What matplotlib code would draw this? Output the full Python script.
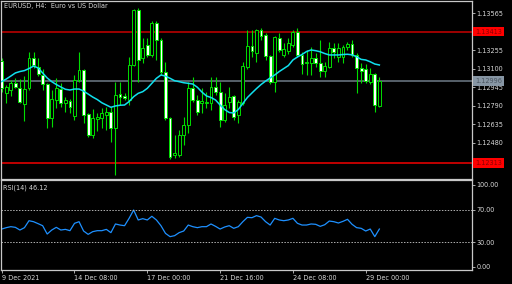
import matplotlib
matplotlib.use("Agg")
import matplotlib.pyplot as plt
import matplotlib.transforms as mtransforms
import numpy as np

# ---- data (EURUSD H4) ----
opens = [1.13165, 1.12897, 1.12922, 1.12981, 1.12939, 1.12804, 1.12939, 1.13190, 1.13115, 1.13048,
         1.12972, 1.12687, 1.12838, 1.12930, 1.12813, 1.12830, 1.12704, 1.13006, 1.13090, 1.12721,
         1.12544, 1.12679, 1.12687, 1.12712, 1.12737, 1.12603, 1.12888, 1.12872, 1.12838, 1.13132,
         1.13593, 1.13190, 1.13299, 1.13216, 1.13484, 1.13341, 1.13073, 1.12687, 1.12377, 1.12377,
         1.12544, 1.12628, 1.12939, 1.12838, 1.12813, 1.12813, 1.12813, 1.12947, 1.12905, 1.12670,
         1.12821, 1.12872, 1.12712, 1.12813, 1.13115, 1.13291, 1.13232, 1.13425, 1.13383, 1.13207,
         1.12989, 1.13358, 1.13216, 1.13249, 1.13299, 1.13409, 1.13216, 1.13148, 1.13148, 1.13190,
         1.13148, 1.13081, 1.13115, 1.13274, 1.13199, 1.13199, 1.13283, 1.13308, 1.13216, 1.13107,
         1.13098, 1.12989, 1.13056, 1.12788]
highs = [1.13190, 1.12964, 1.13006, 1.13023, 1.13014, 1.13039, 1.13241, 1.13241, 1.13190, 1.13098,
         1.12981, 1.12922, 1.13023, 1.12981, 1.12863, 1.12846, 1.13048, 1.13241, 1.13098, 1.12729,
         1.12763, 1.12729, 1.12771, 1.12779, 1.12779, 1.12989, 1.12989, 1.12897, 1.13199, 1.13601,
         1.13610, 1.13358, 1.13358, 1.13501, 1.13501, 1.13358, 1.13157, 1.12695, 1.12544, 1.12586,
         1.12695, 1.12989, 1.13031, 1.12880, 1.12939, 1.12905, 1.13031, 1.13031, 1.12989, 1.12897,
         1.12947, 1.12880, 1.12838, 1.13157, 1.13425, 1.13425, 1.13434, 1.13442, 1.13400, 1.13216,
         1.13375, 1.13400, 1.13316, 1.13358, 1.13425, 1.13442, 1.13241, 1.13258, 1.13283, 1.13232,
         1.13341, 1.13157, 1.13325, 1.13316, 1.13316, 1.13299, 1.13325, 1.13341, 1.13232, 1.13148,
         1.13140, 1.13107, 1.13065, 1.13031]
lows = [1.12905, 1.12813, 1.12872, 1.12939, 1.12813, 1.12662, 1.12922, 1.13107, 1.13039, 1.12922,
        1.12603, 1.12611, 1.12771, 1.12779, 1.12737, 1.12729, 1.12670, 1.12989, 1.12645, 1.12528,
        1.12519, 1.12578, 1.12603, 1.12586, 1.12486, 1.12209, 1.12796, 1.12838, 1.12796, 1.13123,
        1.12989, 1.13148, 1.13199, 1.13199, 1.13174, 1.13048, 1.12670, 1.12343, 1.12351, 1.12360,
        1.12460, 1.12561, 1.12821, 1.12712, 1.12729, 1.12771, 1.12754, 1.12880, 1.12611, 1.12653,
        1.12771, 1.12670, 1.12645, 1.12796, 1.13098, 1.13199, 1.13157, 1.13341, 1.13174, 1.12972,
        1.12905, 1.13241, 1.13199, 1.13224, 1.13283, 1.13199, 1.13056, 1.13048, 1.13048, 1.13115,
        1.13031, 1.13031, 1.13107, 1.13190, 1.13157, 1.13148, 1.13258, 1.13199, 1.12897, 1.12981,
        1.12981, 1.12972, 1.12737, 1.12779]
closes = [1.12939, 1.12947, 1.12981, 1.12947, 1.12821, 1.12930, 1.13190, 1.13132, 1.13056, 1.12972,
          1.12687, 1.12846, 1.12939, 1.12813, 1.12838, 1.12779, 1.13006, 1.13090, 1.12712, 1.12544,
          1.12687, 1.12695, 1.12729, 1.12737, 1.12603, 1.12880, 1.12863, 1.12855, 1.13132, 1.13593,
          1.13174, 1.13274, 1.13216, 1.13484, 1.13341, 1.13073, 1.12687, 1.12360, 1.12393, 1.12544,
          1.12628, 1.12939, 1.12838, 1.12737, 1.12830, 1.12821, 1.12947, 1.12905, 1.12670, 1.12796,
          1.12863, 1.12695, 1.12821, 1.13123, 1.13291, 1.13249, 1.13425, 1.13375, 1.13207, 1.12989,
          1.13367, 1.13258, 1.13266, 1.13316, 1.13409, 1.13216, 1.13140, 1.13157, 1.13190, 1.13148,
          1.13081, 1.13123, 1.13274, 1.13241, 1.13274, 1.13283, 1.13308, 1.13216, 1.13107, 1.13081,
          1.12997, 1.13056, 1.12796, 1.12997]
ma_values = [1.12993, 1.13014, 1.13039, 1.13065, 1.13077, 1.13085, 1.13102, 1.13123, 1.13107, 1.13065,
             1.13023, 1.12992, 1.12968, 1.12947, 1.12928, 1.12922, 1.12930, 1.12930, 1.12913, 1.12888,
             1.12863, 1.12842, 1.12815, 1.12796, 1.12777, 1.12788, 1.12794, 1.12796, 1.12825, 1.12866,
             1.12894, 1.12908, 1.12936, 1.12978, 1.13020, 1.13048, 1.13039, 1.13020, 1.13000, 1.12992,
             1.12983, 1.12978, 1.12972, 1.12945, 1.12905, 1.12872, 1.12859, 1.12838, 1.12796, 1.12758,
             1.12733, 1.12729, 1.12758, 1.12809, 1.12859, 1.12897, 1.12934, 1.12968, 1.12997, 1.13023,
             1.13048, 1.13077, 1.13102, 1.13127, 1.13174, 1.13199, 1.13220, 1.13245, 1.13258, 1.13252,
             1.13243, 1.13228, 1.13216, 1.13216, 1.13216, 1.13220, 1.13222, 1.13217, 1.13201, 1.13179,
             1.13174, 1.13159, 1.13140, 1.13132]
rsi_values = [46.1, 47.8, 49.0, 48.2, 44.9, 47.8, 56.3, 55.1, 52.7, 50.2,
              40.0, 44.9, 48.2, 44.9, 45.7, 44.1, 53.1, 55.1, 43.7, 39.6,
              42.9, 44.1, 44.1, 45.7, 41.7, 52.3, 51.0, 50.2, 59.2, 69.4,
              57.2, 58.8, 57.2, 61.7, 57.2, 50.2, 40.8, 36.8, 38.0, 41.7,
              43.7, 51.0, 49.0, 47.8, 49.0, 49.0, 52.3, 49.4, 46.1, 48.6,
              50.2, 47.0, 49.0, 55.1, 60.4, 60.0, 62.5, 60.8, 55.1, 51.0,
              59.2, 57.2, 56.3, 57.2, 59.2, 53.1, 51.0, 51.0, 52.3, 51.9,
              49.4, 51.4, 55.9, 55.1, 53.5, 55.5, 58.0, 51.9, 47.8, 47.0,
              43.7, 46.1, 36.8, 46.1]
price_ticks = [1.13565, 1.13255, 1.13100, 1.12945, 1.12790, 1.12635, 1.12480]
resistance = 1.13413
support = 1.12313
last_price = 1.12996
rsi_ticks = [100.0, 70.0, 30.0, 0.0]
rsi_levels = [70.0, 30.0]
date_positions = [0, 16, 32, 48, 64, 80]
date_labels = ["9 Dec 2021", "14 Dec 08:00", "17 Dec 00:00", "21 Dec 16:00", "24 Dec 08:00", "29 Dec 00:00"]
title = "EURUSD, H4:  Euro vs US Dollar"
rsi_title = "RSI(14) 46.12"

# ---- figure ----
W, H = 512, 284
fig = plt.figure(figsize=(W / 100, H / 100), dpi=100, facecolor="black")
FONT = "DejaVu Sans"
FS = 4.7
TXT = "#d8d8d8"
BORDER = "#c8c8c8"
GREEN = "#00dd00"


def frac(x0, y0, x1, y1):
    return [x0 / W, 1 - y1 / H, (x1 - x0) / W, (y1 - y0) / H]


ax = fig.add_axes(frac(1, 1, 472, 179), facecolor="black")
axr = fig.add_axes(frac(1, 180, 472, 270), facecolor="black", sharex=ax)

n = len(closes)
x = np.arange(n)
xmin, xmax = (1 - 1.7) / 4.55, (472 - 1.7) / 4.55
ax.set_xlim(xmin, xmax)
ax.set_ylim(1.12175, 1.13669)
axr.set_ylim(-4.0, 106.1)

o = np.array(opens); c = np.array(closes); hi = np.array(highs); lo = np.array(lows)
bull = c >= o

# horizontal lines
ax.axhline(resistance, color="#b80000", lw=1.2, zorder=1)
ax.axhline(support, color="#e00000", lw=1.2, zorder=1)
ax.axhline(last_price, color="#66717c", lw=1.2, zorder=1)

# wicks
ax.vlines(x, lo, hi, color=GREEN, lw=0.8, zorder=2)
# bodies
body_w = 0.62
bottoms = np.minimum(o, c)
heights = np.maximum(np.abs(c - o), 0.00003)
ax.bar(x[bull], heights[bull], bottom=bottoms[bull], width=body_w,
       facecolor="black", edgecolor=GREEN, lw=0.7, zorder=3)
ax.bar(x[~bull], heights[~bull], bottom=bottoms[~bull], width=body_w,
       facecolor="white", edgecolor=GREEN, lw=0.7, zorder=3)

# moving average
ax.plot(x, ma_values, color="#10e0ee", lw=1.1, zorder=4)

# RSI
axr.plot(x, rsi_values, color="#1e90ff", lw=0.9)
for lv in rsi_levels:
    axr.axhline(lv, color="#b0b0b0", lw=0.7, ls=(0, (1.5, 1.5)))

# axes styling
for a in (ax, axr):
    for s in a.spines.values():
        s.set_color(BORDER)
        s.set_linewidth(0.9)
    a.yaxis.tick_right()
    a.tick_params(axis="y", colors=BORDER, length=2.2, width=0.6, pad=1,
                  labelsize=FS, labelcolor=TXT)
    for lab in a.get_yticklabels():
        lab.set_fontfamily(FONT)

ax.set_yticks(price_ticks)
ax.set_yticklabels([f"{p:.5f}" for p in price_ticks], fontsize=FS, color=TXT, family=FONT)
axr.set_yticks(rsi_ticks)
axr.set_yticklabels([f"{v:.2f}" for v in rsi_ticks], fontsize=FS, color=TXT, family=FONT)

ax.tick_params(axis="x", bottom=False, labelbottom=False)
axr.set_xticks(date_positions)
axr.set_xticklabels(date_labels, fontsize=FS, color=TXT, family=FONT, ha="left")
axr.tick_params(axis="x", colors=BORDER, length=2.2, width=0.6, pad=1.5, labelcolor=TXT)
axr.set_xlim(xmin, xmax)

# price boxes
blend = mtransforms.blended_transform_factory(ax.transAxes, ax.transData)
for val, fc, tc in [(resistance, "#ff0000", "#8a0000"), (support, "#ff0000", "#8a0000"),
                    (last_price, "#8796a4", "#4a5560")]:
    ax.text(1.006, val, f"{val:.5f}", transform=blend, va="center", ha="left",
            fontsize=FS, color=tc, family=FONT, clip_on=False, zorder=10,
            bbox=dict(boxstyle="square,pad=0.3", fc=fc, ec="none"))

ax.text(0.0064, 0.972, title, transform=ax.transAxes, va="center", ha="left",
        fontsize=FS, color=TXT, family=FONT)
axr.text(0.005, 0.915, rsi_title, transform=axr.transAxes, va="center", ha="left",
         fontsize=FS, color=TXT, family=FONT)

fig.savefig("out.png", dpi=100, facecolor="black")
